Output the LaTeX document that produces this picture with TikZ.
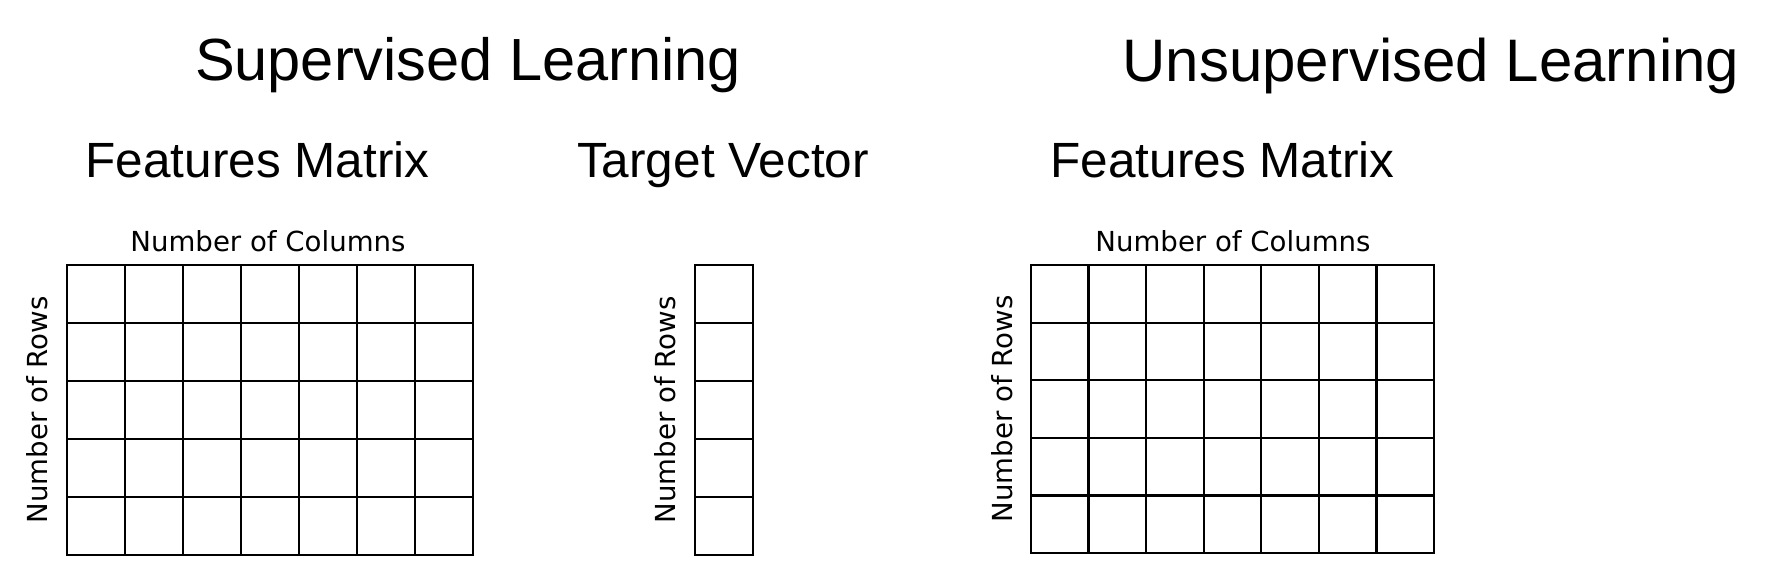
\documentclass[tikz,border=0pt]{standalone}
\usepackage{fontspec}
\newfontfamily\headfont{Liberation Sans}
\newfontfamily\labfont{DejaVu Sans}

\begin{document}
\begin{tikzpicture}[x=1pt,y=-1pt,
  bigtitle/.style={inner sep=0pt,anchor=base,font=\headfont\fontsize{59.5}{60}\selectfont},
  subtitle/.style={inner sep=0pt,anchor=base,font=\headfont\fontsize{49.5}{50}\selectfont},
  axislabel/.style={inner sep=0pt,anchor=base,font=\labfont\fontsize{27.6}{28}\selectfont},
  gridline/.style={line width=2.2pt}]
  \useasboundingbox (0,0) rectangle (1774,576);

  % headings
  \node[bigtitle] (sup) at (468,80) {Supervised Learning};
  \node[bigtitle,font=\headfont\fontsize{60}{61}\selectfont] (unsup) at (1431,81) {Unsupervised Learning};
  \node[subtitle] (featL) at (257.5,177) {Features Matrix};
  \node[subtitle] (target) at (723,177) {Target Vector};
  \node[subtitle] (featR) at (1222.5,177) {Features Matrix};

  % axis labels
  \node[axislabel] (colsL) at (268,251) {Number of Columns};
  \node[axislabel] (colsR) at (1233,251) {Number of Columns};
  \node[axislabel,rotate=90] (rowsL) at (47,410) {Number of Rows};
  \node[axislabel,rotate=90] (rowsT) at (675,410) {Number of Rows};
  \node[axislabel,rotate=90] (rowsR) at (1012,409) {Number of Rows};

  % features matrix, supervised
  \draw[gridline] (67,265) rectangle (473,555);
  \foreach \i in {1,...,6}
    \draw[gridline] ({67+\i*58},265) -- ({67+\i*58},555);
  \foreach \j in {1,...,4}
    \draw[gridline] (67,{265+\j*58}) -- (473,{265+\j*58});

  % target vector
  \draw[gridline] (695,265) rectangle (753,555);
  \foreach \j in {1,...,4}
    \draw[gridline] (695,{265+\j*58}) -- (753,{265+\j*58});

  % features matrix, unsupervised
  \draw[gridline] (1031,265) rectangle (1434,553);
  \foreach \i in {1,...,6}
    \draw[gridline] ({1031+\i*57.57},265) -- ({1031+\i*57.57},553);
  \foreach \j in {1,...,4}
    \draw[gridline] (1031,{265+\j*57.6}) -- (1434,{265+\j*57.6});
\end{tikzpicture}
\end{document}
